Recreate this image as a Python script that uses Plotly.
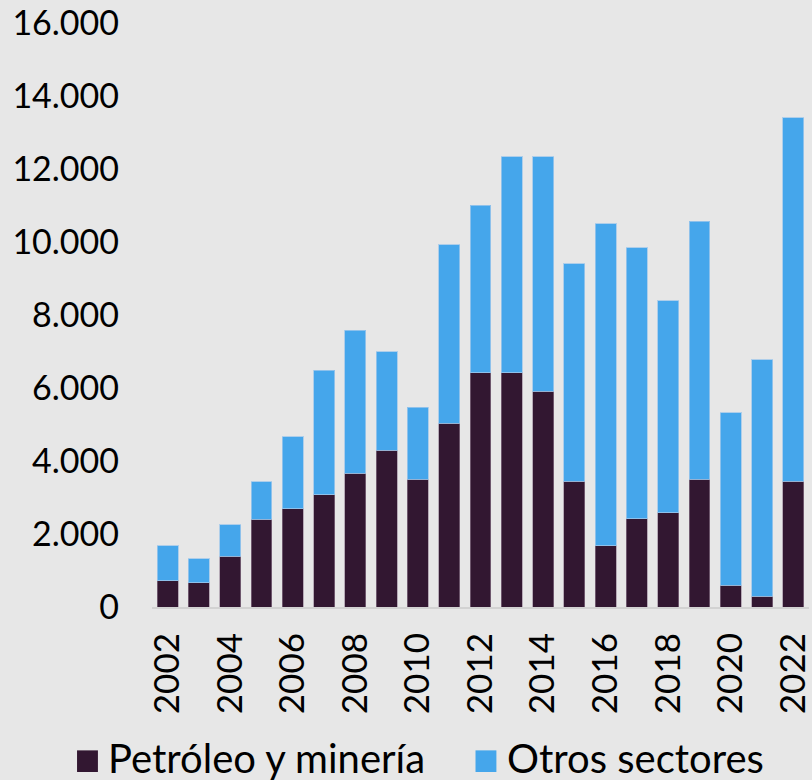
import plotly.graph_objects as go

years = list(range(2002, 2023))
petroleo_mineria = [725, 660, 1390, 2410, 2690, 3070, 3660, 4300, 3500, 5030, 6420,
                    6420, 5910, 3440, 1680, 2420, 2580, 3500, 590, 300, 3440]
otros_sectores = [955, 660, 870, 1020, 1980, 3420, 3920, 2700, 1970, 4890, 4590,
                  5910, 6420, 5970, 8820, 7420, 5810, 7070, 4730, 6480, 9970]
series_names = ["Petróleo y minería", "Otros sectores"]
y_tickvals = [0, 2000, 4000, 6000, 8000, 10000, 12000, 14000, 16000]
y_ticktext = ["0", "2.000", "4.000", "6.000", "8.000", "10.000", "12.000", "14.000", "16.000"]
x_tickvals = list(range(2002, 2023, 2))
x_ticktext = [str(y) for y in x_tickvals]

DARK = "#321731"
BLUE = "#45a6eb"
BG = "#e7e7e7"
FONT = "Lato"

fig = go.Figure()
fig.add_trace(go.Bar(x=years, y=petroleo_mineria, name=series_names[0],
                     marker=dict(color=DARK, line=dict(color="rgba(150,130,150,0.6)", width=1)),
                     showlegend=False))
fig.add_trace(go.Bar(x=years, y=otros_sectores, name=series_names[1],
                     marker=dict(color=BLUE, line=dict(color="rgba(160,200,235,0.8)", width=1)),
                     showlegend=False))

# legend drawn manually (large square keys)
legend_items = [
    (DARK, -0.1141, -0.0823, -0.0697, series_names[0]),
    (BLUE, 0.4924, 0.5242, 0.5379, series_names[1]),
]
for color, x0, x1, xt, label in legend_items:
    fig.add_shape(type="rect", xref="paper", yref="paper", x0=x0, x1=x1,
                  y0=-0.2825, y1=-0.2455, fillcolor=color, line=dict(width=0))
    fig.add_annotation(xref="paper", yref="paper", x=xt, y=-0.259, text=label,
                       showarrow=False, xanchor="left", yanchor="middle",
                       font=dict(family=FONT, size=40, color="#000000"))

fig.update_layout(
    barmode="stack",
    bargap=0.33,
    width=812, height=780,
    margin=dict(l=152, r=0, t=23, b=173),
    paper_bgcolor=BG, plot_bgcolor=BG,
    font=dict(family=FONT, size=34, color="#000000"),
    xaxis=dict(range=[2001.5, 2022.5], tickvals=x_tickvals, ticktext=x_ticktext,
               tickangle=-90, showgrid=False, zeroline=False, showline=True,
               linecolor="#d2d2d2", linewidth=2, ticks="", ticklabelstandoff=10,
               ticklabeloverflow="allow",
               tickfont=dict(family=FONT, size=35)),
    yaxis=dict(range=[0, 16000], tickvals=y_tickvals, ticktext=y_ticktext,
               showgrid=False, zeroline=False, showline=False, ticks="",
               ticklabelstandoff=32, tickfont=dict(family=FONT, size=34)),
    showlegend=False,
)

fig.write_html("out.html",
               config={"displayModeBar": False},
               post_script="document.body.style.margin='0';document.body.style.padding='0';"
                           "document.body.style.overflow='hidden';")
